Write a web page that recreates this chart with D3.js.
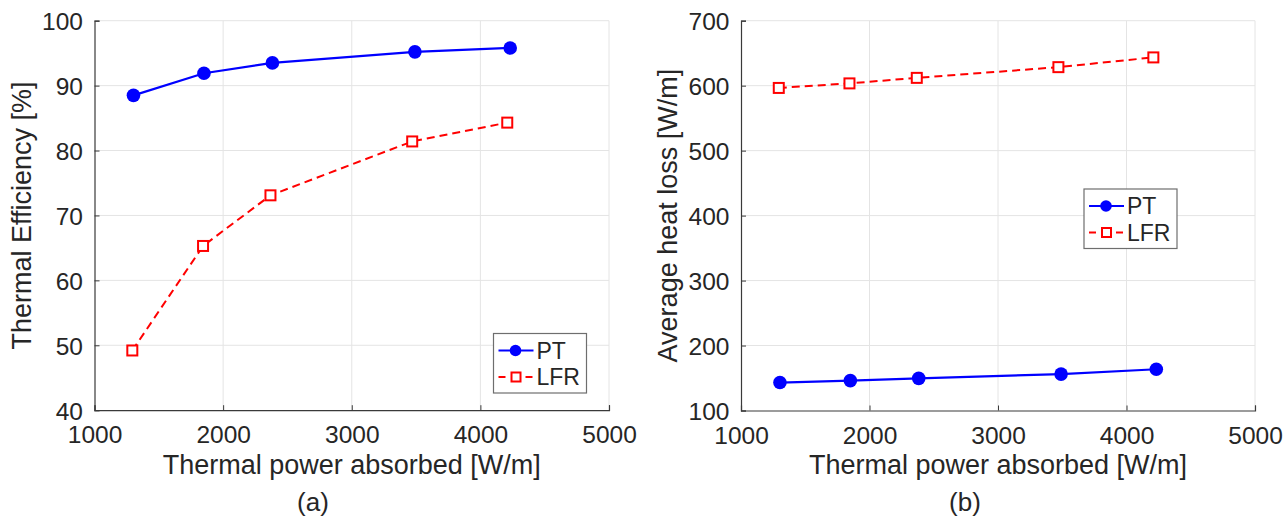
<!DOCTYPE html>
<html>
<head>
<meta charset="utf-8">
<script src="https://cdn.jsdelivr.net/npm/d3@7"></script>
<style>
  html, body { margin: 0; padding: 0; background: #ffffff; }
  svg { display: block; }
  text { font-family: "Liberation Sans", Arial, sans-serif; fill: #262626; }
</style>
</head>
<body>
<svg id="chart" width="1285" height="518"></svg>
<script>
// ---------------- data ----------------
const powerTicks = [1000, 2000, 3000, 4000, 5000];
const effTicks = [40, 50, 60, 70, 80, 90, 100];
const lossTicks = [100, 200, 300, 400, 500, 600, 700];

const seriesNames = ["PT", "LFR"];
const ptPower  = [1303, 1851, 2383, 3491, 4232];
const lfrPower = [1294, 1844, 2368, 3470, 4209];

const ptEfficiency  = [88.5, 91.9, 93.5, 95.2, 95.8];
const lfrEfficiency = [49.2, 65.3, 73.1, 81.4, 84.3];

const ptHeatLoss  = [143, 146, 149.5, 156, 163.5];
const lfrHeatLoss = [596.5, 603.5, 612, 628.5, 643.5];

const xLabel = "Thermal power absorbed [W/m]";
// ---------------------------------------

const svg = d3.select("#chart");
const BLUE = "#0000ff", RED = "#ff0000";

function panel(cfg) {
  const g = svg.append("g");
  const x = d3.scaleLinear().domain([1000, 5000]).range([cfg.left, cfg.right]);
  const y = d3.scaleLinear().domain(cfg.yDomain).range([cfg.bottom, cfg.top]);

  // grid
  g.append("g").selectAll("line").data(powerTicks.slice(1)).join("line")
    .attr("x1", d => x(d)).attr("x2", d => x(d))
    .attr("y1", cfg.top).attr("y2", cfg.bottom)
    .attr("stroke", "#e4e4e4").attr("stroke-width", 1);
  g.append("g").selectAll("line").data(cfg.yTicks.slice(1)).join("line")
    .attr("x1", cfg.left).attr("x2", cfg.right)
    .attr("y1", d => y(d)).attr("y2", d => y(d))
    .attr("stroke", "#e4e4e4").attr("stroke-width", 1);

  // axes (ticks inward)
  const xAxis = d3.axisBottom(x).tickValues(powerTicks).tickSize(-5).tickPadding(0).tickFormat(d3.format("d"));
  const yAxis = d3.axisLeft(y).tickValues(cfg.yTicks).tickSize(-5).tickPadding(0).tickFormat(d3.format("d"));

  const gx = g.append("g").attr("transform", `translate(0,${cfg.bottom})`).call(xAxis);
  const gy = g.append("g").attr("transform", `translate(${cfg.left},0)`).call(yAxis);
  [gx, gy].forEach(a => {
    a.select(".domain").attr("stroke", "#3a3a3a").attr("stroke-width", 1.2);
    a.selectAll(".tick line").attr("stroke", "#3a3a3a").attr("stroke-width", 1);
    a.selectAll(".tick text").attr("font-family", "Liberation Sans, Arial, sans-serif")
      .attr("font-size", 24.5).attr("fill", "#262626");
  });
  gx.selectAll(".tick text").attr("y", 33).attr("dy", null);
  gy.selectAll(".tick text").attr("x", -11.5).attr("dy", "0.36em");

  // axis labels
  g.append("text").attr("x", (cfg.left + cfg.right) / 2).attr("y", 473.5)
    .attr("text-anchor", "middle").attr("font-size", 27).text(xLabel);
  g.append("text")
    .attr("transform", `translate(${cfg.left - 64},${(cfg.top + cfg.bottom) / 2}) rotate(-90)`)
    .attr("text-anchor", "middle").attr("font-size", 27).text(cfg.yLabel);

  // caption
  g.append("text").attr("x", cfg.capX).attr("y", 511)
    .attr("text-anchor", "middle").attr("font-size", 26)
    .attr("font-family", "'Open Sans', 'Noto Sans', sans-serif").text(cfg.caption);

  // LFR line
  const lfrPts = lfrPower.map((p, i) => [p, cfg.lfr[i]]);
  const ptPts = ptPower.map((p, i) => [p, cfg.pt[i]]);
  const line = d3.line().x(d => x(d[0])).y(d => y(d[1]));

  g.append("path").datum(lfrPts).attr("d", line).attr("fill", "none")
    .attr("stroke", RED).attr("stroke-width", 2).attr("stroke-dasharray", "8,5");
  g.append("g").selectAll("rect").data(lfrPts).join("rect")
    .attr("x", d => x(d[0]) - 5).attr("y", d => y(d[1]) - 5)
    .attr("width", 10).attr("height", 10)
    .attr("fill", "#ffffff").attr("stroke", RED).attr("stroke-width", 2);

  g.append("path").datum(ptPts).attr("d", line).attr("fill", "none")
    .attr("stroke", BLUE).attr("stroke-width", 2.2);
  g.append("g").selectAll("circle").data(ptPts).join("circle")
    .attr("cx", d => x(d[0])).attr("cy", d => y(d[1])).attr("r", 6.8)
    .attr("fill", BLUE);

  // legend
  const L = cfg.legend;
  const lg = g.append("g").attr("transform", `translate(${L.x},${L.y})`);
  lg.append("rect").attr("x", 0).attr("y", 0).attr("width", 93).attr("height", 59.5)
    .attr("fill", "#ffffff").attr("stroke", "#6e6e6e").attr("stroke-width", 1.2);
  const rows = [17, 43.5];
  // PT
  lg.append("line").attr("x1", 5).attr("x2", 40).attr("y1", rows[0]).attr("y2", rows[0])
    .attr("stroke", BLUE).attr("stroke-width", 2);
  lg.append("circle").attr("cx", 22).attr("cy", rows[0]).attr("r", 5.8).attr("fill", BLUE);
  // LFR
  lg.append("line").attr("x1", 5).attr("x2", 12).attr("y1", rows[1]).attr("y2", rows[1])
    .attr("stroke", RED).attr("stroke-width", 2);
  lg.append("line").attr("x1", 32).attr("x2", 39).attr("y1", rows[1]).attr("y2", rows[1])
    .attr("stroke", RED).attr("stroke-width", 2);
  lg.append("rect").attr("x", 18).attr("y", rows[1] - 4.5).attr("width", 9).attr("height", 9)
    .attr("fill", "#ffffff").attr("stroke", RED).attr("stroke-width", 2);
  lg.selectAll("text.lab").data(seriesNames).join("text").attr("class", "lab")
    .attr("x", 43).attr("y", (d, i) => rows[i]).attr("dy", "0.36em")
    .attr("font-size", 23).text(d => d);
}

panel({
  left: 94.5, right: 609, top: 20.7, bottom: 410.2,
  yDomain: [40, 100], yTicks: effTicks,
  yLabel: "Thermal Efficiency [%]",
  pt: ptEfficiency, lfr: lfrEfficiency,
  legend: { x: 493.5, y: 333.5 },
  caption: "(a)", capX: 313
});

panel({
  left: 741, right: 1255, top: 20.7, bottom: 410.5,
  yDomain: [100, 700], yTicks: lossTicks,
  yLabel: "Average heat loss [W/m]",
  pt: ptHeatLoss, lfr: lfrHeatLoss,
  legend: { x: 1084, y: 189 },
  caption: "(b)", capX: 965
});
</script>
</body>
</html>
